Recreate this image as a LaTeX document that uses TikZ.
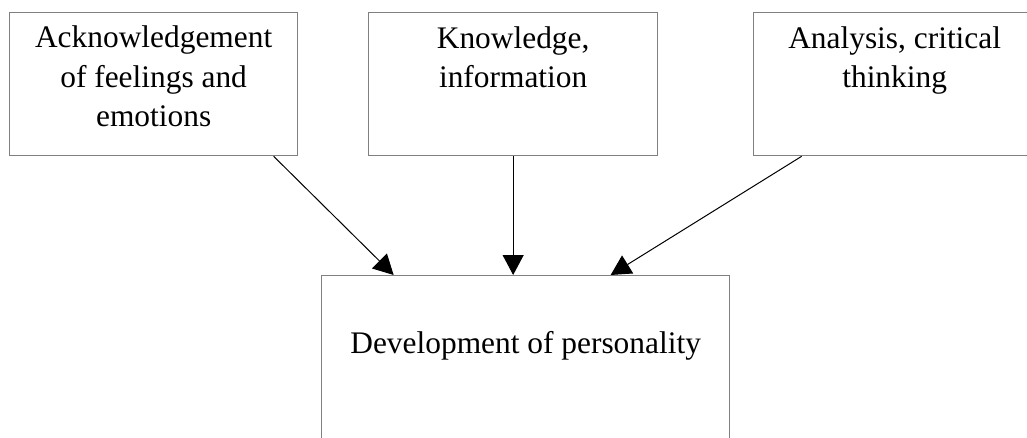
\documentclass[tikz,border=0pt]{standalone}
\usepackage{fontspec}
\setmainfont{Liberation Serif}
\usetikzlibrary{arrows.meta,calc}
\begin{document}
\begin{tikzpicture}[x=1pt,y=-1pt,
  boxnode/.style={draw=black!50,line width=1.3pt,rectangle,inner sep=0pt,anchor=north west},
  label/.style={inner sep=0pt,anchor=base,align=center,font=\fontsize{31.4}{39.5}\selectfont},
  conn/.style={draw=black,line width=1pt,-{Triangle[length=20pt,width=21pt]}}]
\useasboundingbox (0,0) rectangle (1027,438);
\node[boxnode,minimum width=288pt,minimum height=143pt] (L) at (9,12) {};
\node[boxnode,minimum width=289pt,minimum height=143pt] (M) at (368,12) {};
\node[boxnode,minimum width=282pt,minimum height=143pt] (R) at (753,12) {};
\node[boxnode,minimum width=408pt,minimum height=200pt] (B) at (321,275) {};
\node[label] (Lt) at ($(L.north)+(0,115)$) {Acknowledgement\\of feelings and\\emotions};
\node[label] (Mt) at ($(M.north)+(0,76)$) {Knowledge,\\information};
\node[label] (Rt) at ($(R.north)+(0,76)$) {Analysis, critical\\thinking};
\node[label] (Bt) at ($(B.north)+(0,78)$) {Development of personality};
\draw[conn] ([xshift=120pt]L.south) -- ([xshift=-132pt]B.north);
\draw[conn] (M.south) -- (M.south |- B.north);
\draw[conn] ([xshift=-93pt]R.south) -- ([xshift=85pt]B.north);
\end{tikzpicture}
\end{document}
